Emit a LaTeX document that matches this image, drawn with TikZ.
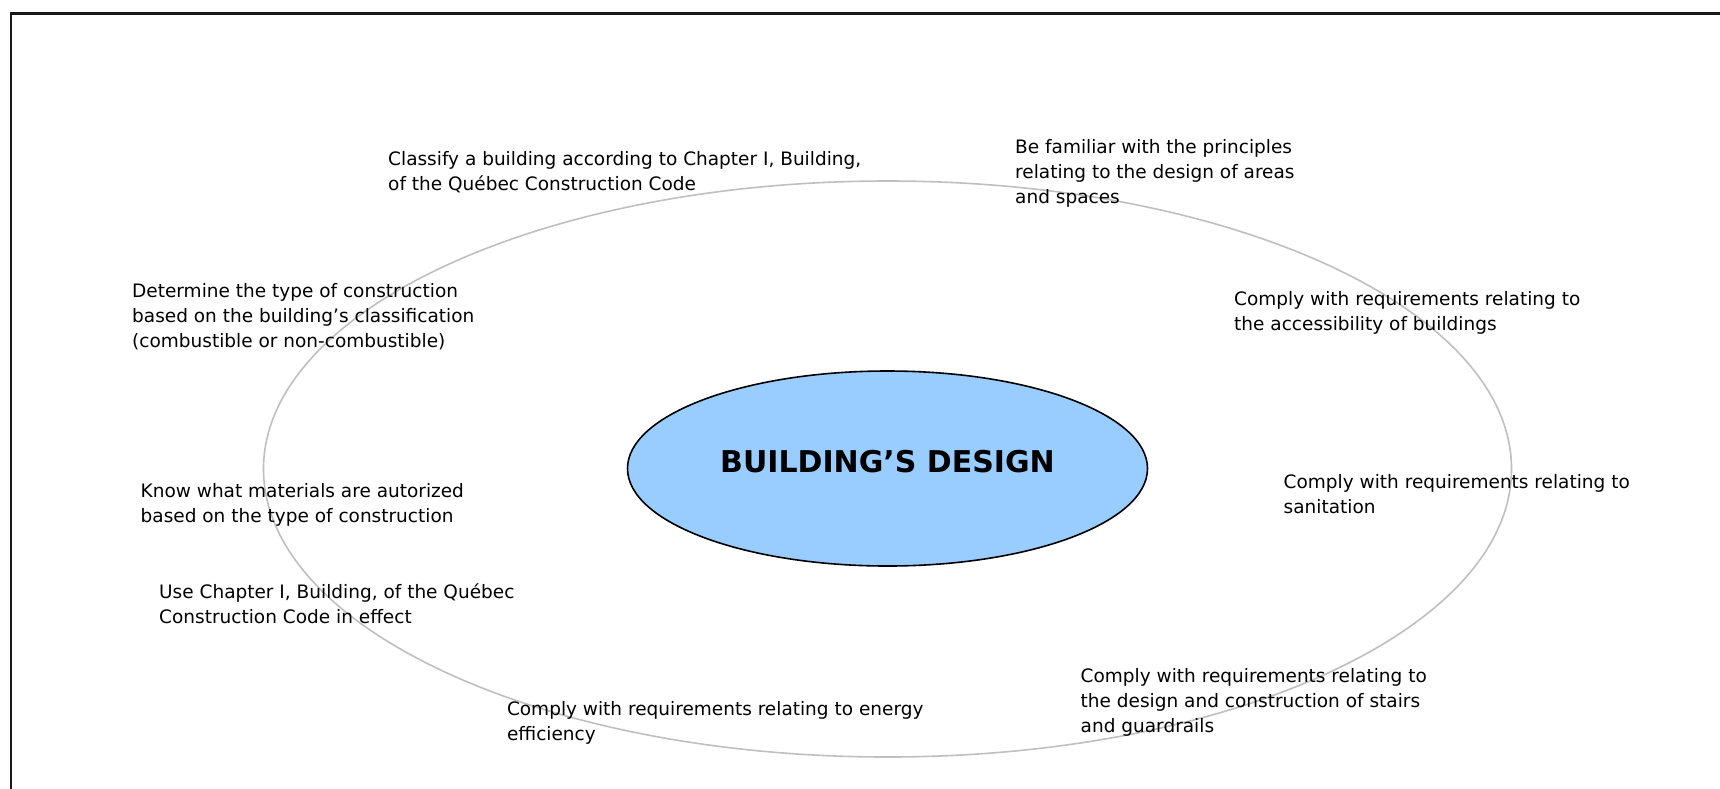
\documentclass[tikz,border=0pt]{standalone}
\usepackage{fontspec}
\setmainfont{DejaVu Sans}
\usetikzlibrary{shapes.geometric}
\begin{document}
\begin{tikzpicture}[x=1pt,y=-1pt,
  lbl/.style={anchor=base west, align=left, inner sep=0pt, text=black,
              font=\fontsize{18.5}{25}\selectfont},
  ring/.style={ellipse, draw=black!25, line width=1.6pt, inner sep=0pt,
               minimum width=1248pt, minimum height=576pt},
  hub/.style={ellipse, draw=black, line width=1.6pt, fill=hubblue, inner sep=0pt,
              minimum width=520pt, minimum height=195pt},
  titlefont/.style={anchor=base, inner sep=0pt, font=\fontsize{30}{36}\selectfont\bfseries}]
\definecolor{hubblue}{HTML}{99CCFF}
\useasboundingbox (0,0) rectangle (1720,788);
\begin{scope}
  \clip (0,0) rectangle (1720,788);
  \draw[line width=2.2pt, black!90] (11,13.5) rectangle (1760,830);
\end{scope}
\node[ring] (ring) at (887.5,469) {};
\node[hub] (hub) at (887.5,468.5) {};
\node[titlefont] (title) at (887.5,472) {BUILDING’S DESIGN};
% base anchor of a multi-line node is the baseline of its last line
\node[lbl] (classify) at (388,190) {Classify a building according to Chapter I, Building,\\of the Québec Construction Code};
\node[lbl] (familiar) at (1015,203) {Be familiar with the principles\\relating to the design of areas\\and spaces};
\node[lbl] (determine) at (132,347) {Determine the type of construction\\based on the building’s classification\\(combustible or non-combustible)};
\node[lbl] (access) at (1234,330.5) {Comply with requirements relating to\\the accessibility of buildings};
\node[lbl] (materials) at (140.5,522.5) {Know what materials are autorized\\based on the type of construction};
\node[lbl] (sanitation) at (1283.5,513.7) {Comply with requirements relating to\\sanitation};
\node[lbl] (usecode) at (159,623) {Use Chapter I, Building, of the Québec\\Construction Code in effect};
\node[lbl] (stairs) at (1080.5,732) {Comply with requirements relating to\\the design and construction of stairs\\and guardrails};
\node[lbl] (energy) at (506.8,740) {Comply with requirements relating to energy\\efficiency};
\end{tikzpicture}
\end{document}
